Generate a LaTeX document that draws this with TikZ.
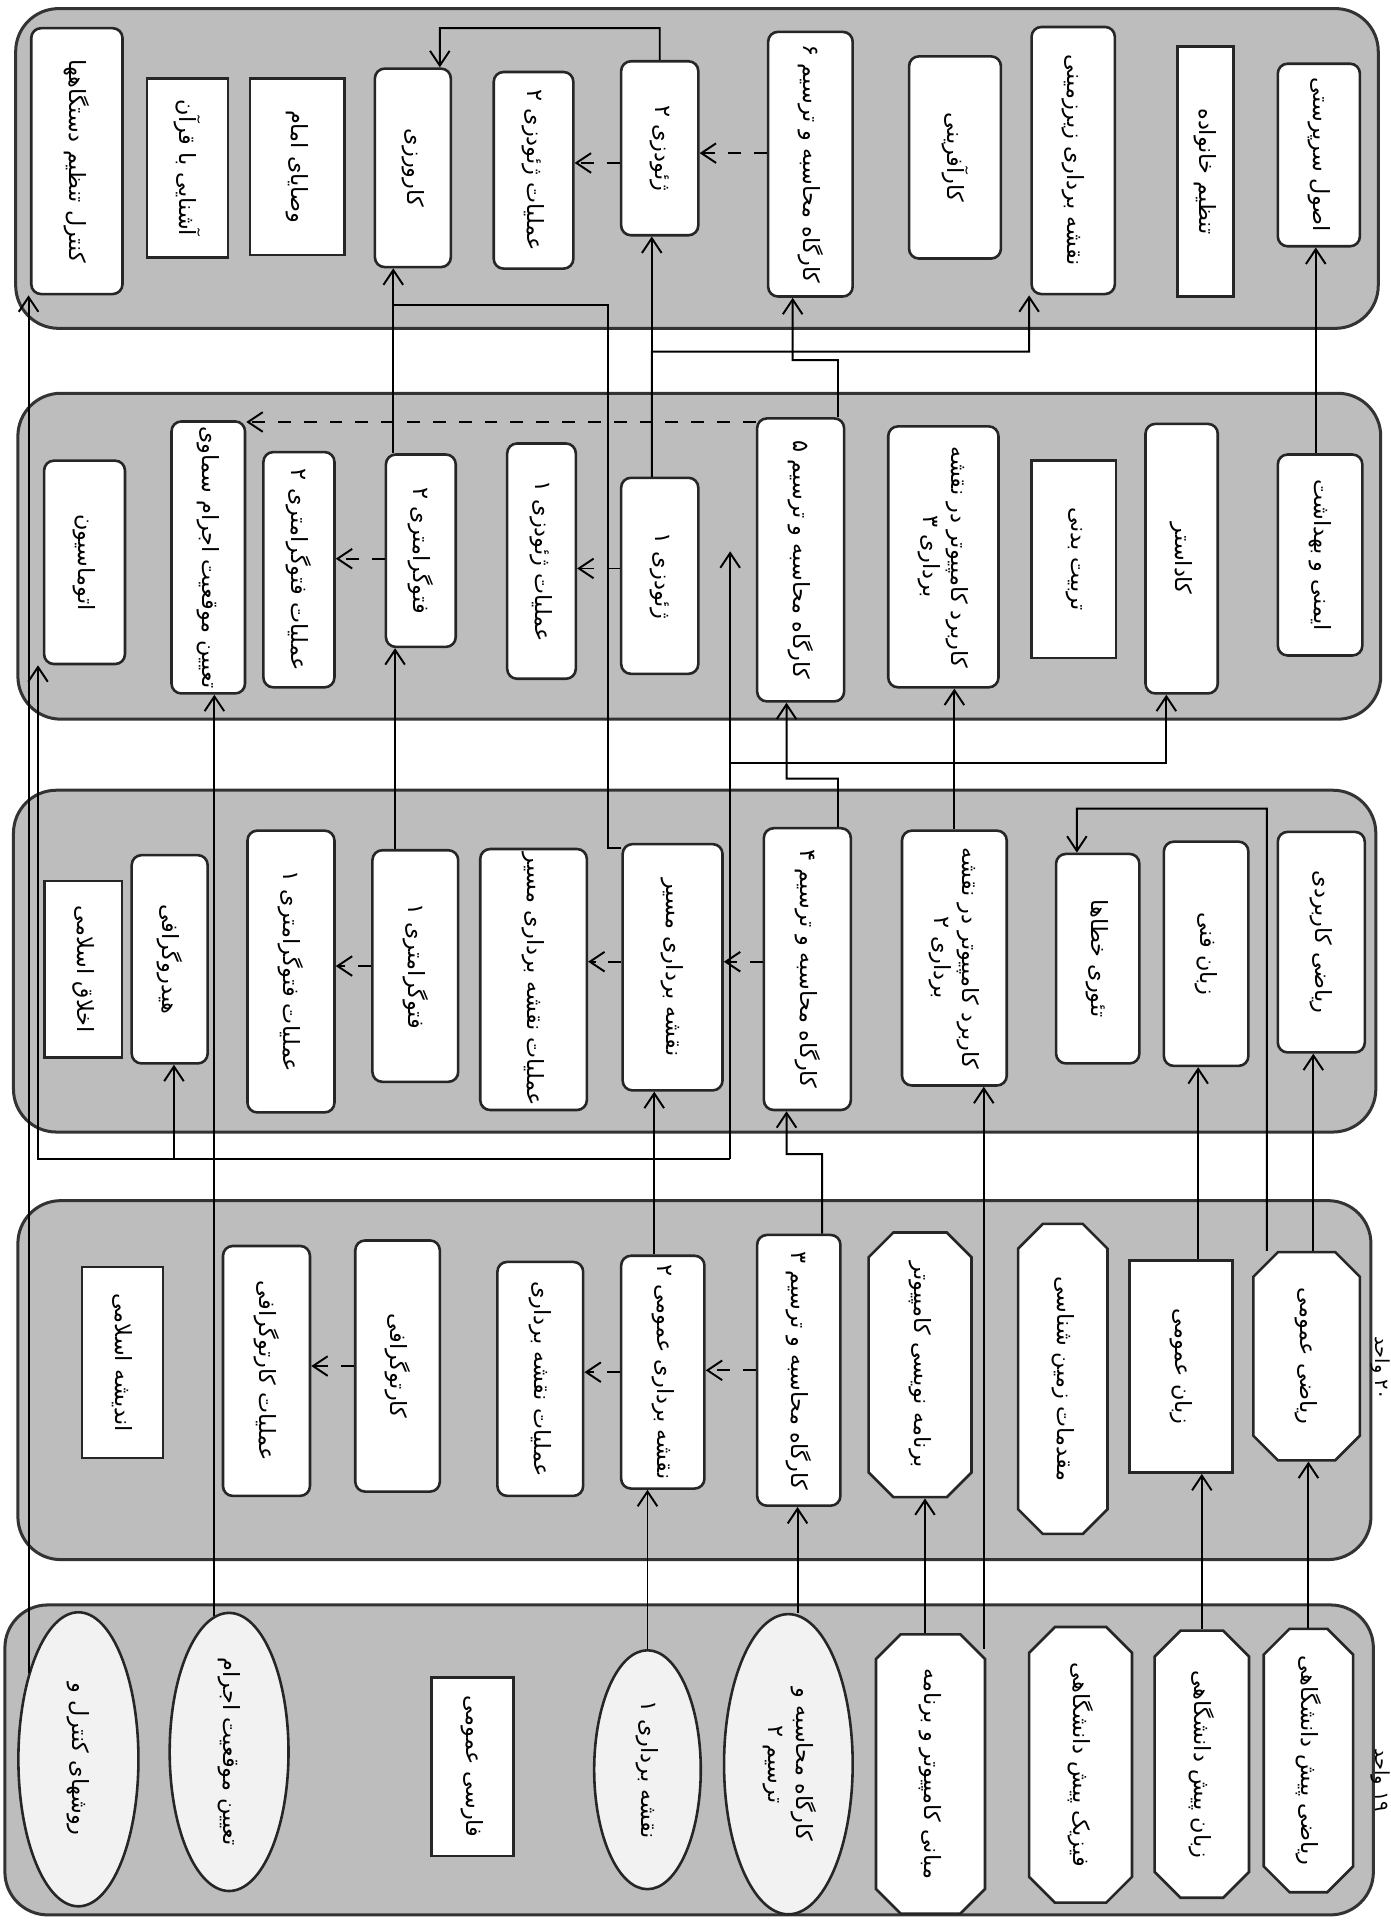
\documentclass[tikz,border=0pt]{standalone}
\usepackage{fontspec}
\usepackage{graphicx}
\usetikzlibrary{shapes.geometric,shapes.misc,arrows.meta}
\newfontfamily\fa[Script=Arabic]{DejaVu Sans}
\TeXXeTstate=1
\newcommand{\fatext}[1]{\rotatebox{-90}{\fa\fontsize{5.2}{6.5}\selectfont\beginR #1\endR}}
\newcommand{\fatwo}[2]{\rotatebox{-90}{\fa\fontsize{5.2}{6.5}\selectfont\begin{tabular}{@{}c@{}}#1\\#2\end{tabular}}}
\tikzset{
  semester/.style={draw=black!80, line width=0.7pt, fill=black!26, rounded corners=3.5mm},
  term/.style={draw=black!85, line width=0.6pt, fill=white, inner sep=0pt, rounded corners=0.8mm},
  plain/.style={draw=black!85, line width=0.6pt, fill=white, inner sep=0pt},
  octa/.style={chamfered rectangle, chamfered rectangle xsep=1.1mm, draw=black!85, line width=0.6pt, fill=white, inner sep=0pt},
  oval/.style={ellipse, draw=black!85, line width=0.6pt, fill=black!5, inner sep=0pt},
  unit/.style={inner sep=0pt, font=\fontsize{4.5}{5}\selectfont},
  link/.style={line width=0.45pt, -{Straight Barb[length=1.2mm,width=1.6mm]}},
  soft/.style={line width=0.45pt, dashed, -{Straight Barb[length=1.2mm,width=1.6mm]}},
}

\begin{document}
\begin{tikzpicture}[x=0.1mm, y=-0.1mm]
    \useasboundingbox (0,0) rectangle (1135,1568);
    % semesters
    \draw[semester] (12.8,7) rectangle (1125,268);
    \draw[semester] (14.6,321) rectangle (1127,587);
    \draw[semester] (11,645) rectangle (1123,924);
    \draw[semester] (14.6,980) rectangle (1119,1273);
    \draw[semester] (4,1310) rectangle (1121,1563);

    % semester 5
    \node[term, minimum width=7.45mm, minimum height=21.7mm] (kontrol) at (62.75,131.5) {\fatext{کنترل تنظیم دستگاهها}};
    \node[plain, minimum width=6.6mm, minimum height=14.6mm] (ashnai) at (153,137) {\fatext{آشنایی با قرآن}};
    \node[plain, minimum width=7.7mm, minimum height=14.4mm] (vasaya) at (242.5,136) {\fatext{وصایای امام}};
    \node[term, minimum width=6.2mm, minimum height=16.2mm] (karvarzi) at (337,137) {\fatext{کارورزی}};
    \node[term, minimum width=6.5mm, minimum height=16.05mm] (amalgeoB) at (435.5,139) {\fatext{عملیات ژئودزی ۲}};
    \node[term, minimum width=6.3mm, minimum height=14.2mm] (geoB) at (538.5,121) {\fatext{ژئودزی ۲}};
    \node[term, minimum width=6.9mm, minimum height=21.6mm] (kargahF) at (661.5,134) {\fatext{کارگاه محاسبه و ترسیم ۶}};
    \node[term, minimum width=7.5mm, minimum height=16.5mm] (karafarini) at (779.5,128.5) {\fatext{کارآفرینی}};
    \node[term, minimum width=6.8mm, minimum height=21.8mm] (zirzamini) at (876,131) {\fatext{نقشه برداری زیرزمینی}};
    \node[plain, minimum width=4.6mm, minimum height=20.4mm] (khanevade) at (984,140) {\fatext{تنظیم خانواده}};
    \node[term, minimum width=6.7mm, minimum height=14.9mm] (osul) at (1076.5,126.5) {\fatext{اصول سرپرستی}};

    % semester 4
    \node[term, minimum width=6.6mm, minimum height=16.6mm] (otomasion) at (69,459) {\fatext{اتوماسیون}};
    \node[term, minimum width=6.0mm, minimum height=22.2mm] (samavi) at (170,455) {\fatext{تعیین موقعیت اجرام سماوی}};
    \node[term, minimum width=5.8mm, minimum height=19.2mm] (amalfotoB) at (244,465) {\fatext{عملیات فتوگرامتری ۲}};
    \node[term, minimum width=5.7mm, minimum height=15.7mm] (fotoB) at (343.5,449.5) {\fatext{فتوگرامتری ۲}};
    \node[term, minimum width=5.6mm, minimum height=19.2mm] (amalgeoA) at (442,458) {\fatext{عملیات ژئودزی ۱}};
    \node[term, minimum width=6.3mm, minimum height=16.0mm] (geoA) at (538.5,470) {\fatext{ژئودزی ۱}};
    \node[term, minimum width=7.1mm, minimum height=23.1mm] (kargahE) at (653.5,457) {\fatext{کارگاه محاسبه و ترسیم ۵}};
    \node[term, minimum width=9.0mm, minimum height=21.3mm] (karbordB) at (770,454.5) {\fatwo{\beginR کاربرد کامپیوتر در نقشه\endR}{\beginR برداری ۳\endR}};
    \node[plain, minimum width=6.9mm, minimum height=16.1mm] (tarbiat) at (876.5,456.5) {\fatext{تربیت بدنی}};
    \node[term, minimum width=5.9mm, minimum height=22.0mm] (kadaster) at (964.5,456) {\fatext{کاداستر}};
    \node[term, minimum width=6.9mm, minimum height=16.4mm] (imeni) at (1077.5,453) {\fatext{ایمنی و بهداشت}};

    % semester 3
    \node[plain, minimum width=6.35mm, minimum height=14.4mm] (akhlagh) at (68,791) {\fatext{اخلاق اسلامی}};
    \node[term, minimum width=6.2mm, minimum height=17.0mm] (hidro) at (138.5,783) {\fatext{هیدروگرافی}};
    \node[term, minimum width=7.1mm, minimum height=23.0mm] (amalfotoA) at (237.5,793) {\fatext{عملیات فتوگرامتری ۱}};
    \node[term, minimum width=7.0mm, minimum height=18.9mm] (fotoA) at (339,788.5) {\fatext{فتوگرامتری ۱}};
    \node[term, minimum width=8.7mm, minimum height=21.3mm] (amalmasir) at (435.5,799.5) {\fatext{عملیات نقشه برداری مسیر}};
    \node[term, minimum width=8.15mm, minimum height=20.1mm] (masir) at (549,789.5) {\fatext{نقشه برداری مسیر}};
    \node[term, minimum width=7.1mm, minimum height=23.0mm] (kargahD) at (659,791) {\fatext{کارگاه محاسبه و ترسیم ۴}};
    \node[term, minimum width=8.55mm, minimum height=20.8mm] (karbordA) at (779,782) {\fatwo{\beginR کاربرد کامپیوتر در نقشه\endR}{\beginR برداری ۲\endR}};
    \node[term, minimum width=6.8mm, minimum height=17.1mm] (teori) at (896,782.5) {\fatext{تئوری خطاها}};
    \node[term, minimum width=6.9mm, minimum height=18.3mm] (zabanfanni) at (984.5,778.5) {\fatext{زبان فنی}};
    \node[term, minimum width=7.1mm, minimum height=18.0mm] (riazikarbordi) at (1078.5,769) {\fatext{ریاضی کاربردی}};

    % semester 2
    \node[plain, minimum width=6.6mm, minimum height=15.6mm] (andishe) at (100,1112) {\fatext{اندیشه اسلامی}};
    \node[term, minimum width=7.1mm, minimum height=20.4mm] (amalkarto) at (217.5,1119) {\fatext{عملیات کارتوگرافی}};
    \node[term, minimum width=6.9mm, minimum height=20.5mm] (karto) at (324.5,1115) {\fatext{کارتوگرافی}};
    \node[term, minimum width=7.0mm, minimum height=19.1mm] (amalnaghshe) at (441,1125.5) {\fatext{عملیات نقشه برداری}};
    \node[term, minimum width=6.8mm, minimum height=19.0mm] (omumiB) at (541,1120) {\fatext{نقشه برداری عمومی ۲}};
    \node[term, minimum width=6.8mm, minimum height=22.1mm] (kargahC) at (652,1118.5) {\fatext{کارگاه محاسبه و ترسیم ۳}};
    \node[octa, minimum width=8.4mm, minimum height=21.6mm] (barname) at (751,1114) {\fatext{برنامه نویسی کامپیوتر}};
    \node[octa, minimum width=7.3mm, minimum height=25.3mm] (zamin) at (867.5,1125.5) {\fatext{مقدمات زمین شناسی}};
    \node[plain, minimum width=8.4mm, minimum height=17.3mm] (zabanomumi) at (964,1115.5) {\fatext{زبان عمومی}};
    \node[octa, minimum width=8.7mm, minimum height=17.0mm] (riaziomumi) at (1066.5,1107) {\fatext{ریاضی عمومی}};

    % semester 1
    \node[oval, minimum width=9.8mm, minimum height=24.0mm] (ravesh) at (64,1436) {\fatext{روشهای کنترل و}};
    \node[oval, minimum width=9.7mm, minimum height=22.7mm] (taein) at (187,1430) {\fatext{تعیین موقعیت اجرام}};
    \node[plain, minimum width=6.7mm, minimum height=14.6mm] (farsi) at (385.5,1442) {\fatext{فارسی عمومی}};
    \node[oval, minimum width=8.7mm, minimum height=19.5mm] (naghsheA) at (528.5,1444.5) {\fatext{نقشه برداری ۱}};
    \node[oval, minimum width=10.5mm, minimum height=24.5mm] (kargahB) at (643.5,1440) {\fatwo{\beginR کارگاه محاسبه و\endR}{\beginR ترسیم ۲\endR}};
    \node[octa, minimum width=8.9mm, minimum height=22.8mm] (mabani) at (759.5,1448) {\fatext{مبانی کامپیوتر و برنامه}};
    \node[octa, minimum width=8.4mm, minimum height=22.5mm] (fizik) at (882,1440.5) {\fatext{فیزیک پیش دانشگاهی}};
    \node[octa, minimum width=7.7mm, minimum height=21.8mm] (zabanpish) at (981,1440) {\fatext{زبان پیش دانشگاهی}};
    \node[octa, minimum width=7.3mm, minimum height=21.5mm] (riazipish) at (1068,1437) {\fatext{ریاضی پیش دانشگاهی}};

    \node[unit] (vahedA) at (1127,1453) {\rotatebox{-90}{\fa\beginR ۱۹ واحد\endR}};
    \node[unit] (vahedB) at (1127,1117) {\rotatebox{-90}{\fa\beginR ۲۰ واحد\endR}};

    % prerequisites
    \draw[link] (riazipish.north) -- (riazipish.north |- riaziomumi.south);
    \draw[link] (zabanpish.north) -- (zabanpish.north |- zabanomumi.south);
    \draw[link] ([xshift=-0.45mm]mabani.north) -- ([xshift=-0.45mm]mabani.north |- barname.south);
    \coordinate (mabaniout) at ([xshift=4.35mm,yshift=-1.3mm]mabani.north);
    \draw[link] (mabaniout) -- (mabaniout |- karbordA.south);
    \draw[link] ([xshift=0.75mm]kargahB.north) -- ([xshift=0.75mm]kargahB.north |- kargahC.south);
    \draw[link] (naghsheA.north) -- (naghsheA.north |- omumiB.south);
    \draw[link] ([xshift=-1.2mm,yshift=-0.35mm]taein.north) -- ([xshift=-1.2mm]taein.north |- samavi.south);
    \draw[link] (ravesh.120) -- (ravesh.120 |- kontrol.south);

    \draw[link] ([xshift=0.55mm]riaziomumi.north) -- ([xshift=0.55mm]riaziomumi.north |- riazikarbordi.south);
    \draw[link] ([xshift=-3.25mm]riaziomumi.north) |- (879,660) -- ([xshift=-1.7mm]teori.north);
    \draw[link] ([xshift=1.4mm]zabanomumi.north) -- ([xshift=1.4mm]zabanomumi.north |- zabanfanni.south);
    \draw[link] ([xshift=1.9mm]kargahC.north) |- (642,942) -- ([xshift=-1.7mm]kargahD.south);
    \draw[link] ([xshift=-0.7mm]omumiB.north) -- ([xshift=-0.7mm]omumiB.north |- masir.south);
    \draw[soft] (kargahC.west) -- (kargahC.west -| omumiB.east);
    \draw[soft] (omumiB.west) -- (omumiB.west -| amalnaghshe.east);
    \draw[soft] (karto.west) -- (karto.west -| amalkarto.east);

    \draw[link] (karbordA.north) -- (karbordA.north |- karbordB.south);
    \draw[link] ([xshift=2.5mm]kargahD.north) |- (642,635.5) -- ([xshift=-1.15mm]kargahE.south);
    \draw[link] ([xshift=-1.65mm]fotoA.north) -- ([xshift=-1.65mm]fotoA.north |- fotoB.south);
    \draw[line width=0.45pt] ([yshift=-0.4mm]masir.north west) -| (496,249) -- (321,249);
    \draw[soft] ([yshift=0.6mm]kargahD.west) -- ([yshift=0.6mm]kargahD.west -| masir.east);
    \draw[soft] ([yshift=0.45mm]masir.west) -- ([yshift=0.45mm]masir.west -| amalmasir.east);
    \draw[soft] (fotoA.west) -- (fotoA.west -| amalfotoA.east);

    \coordinate (netjoin) at (596,946);
    \coordinate (nettop) at (596,450);
    \draw[link] (netjoin) -- (nettop);
    \draw[link] (netjoin) -| ([xshift=-3.8mm]otomasion.south);
    \draw[link] ([xshift=0.35mm]hidro.south |- netjoin) -- ([xshift=0.35mm]hidro.south);
    \draw[link] (596,623) -| ([xshift=-1.25mm]kadaster.south);

    \draw[link] ([xshift=-2.25mm]fotoB.north) -- ([xshift=-2.25mm]fotoB.north |- karvarzi.south);
    \draw[link] ([xshift=-0.65mm]geoA.north) -- ([xshift=-0.65mm]geoA.north |- geoB.south);
    \draw[link] ([xshift=-0.65mm]geoA.north) |- (840,287) -- ([xshift=-3.6mm]zirzamini.south);
    \draw[link] ([xshift=3.05mm]kargahE.north) |- (647,294) -- ([xshift=-1.45mm]kargahF.south);
    \draw[link] ([xshift=-0.35mm]imeni.north) -- ([xshift=-0.35mm]imeni.north |- osul.south);
    \draw[soft] ([yshift=-0.4mm]kargahE.north west) -- ([yshift=-0.4mm]kargahE.north west -| samavi.north east);
    \draw[soft] ([yshift=0.6mm]geoA.west) -- ([yshift=0.6mm]geoA.west -| amalgeoA.east);
    \draw[soft] ([yshift=-0.65mm]fotoB.west) -- ([yshift=-0.65mm]fotoB.west -| amalfotoB.east);

    \draw[link] (geoB.north) |- (359,23) -- ([xshift=2.2mm]karvarzi.north);
    \draw[soft] ([yshift=0.9mm]kargahF.west) -- ([yshift=0.9mm]kargahF.west -| geoB.east);
    \draw[soft] ([yshift=-1.2mm]geoB.west) -- ([yshift=-1.2mm]geoB.west -| amalgeoB.east);
\end{tikzpicture}
\end{document}
